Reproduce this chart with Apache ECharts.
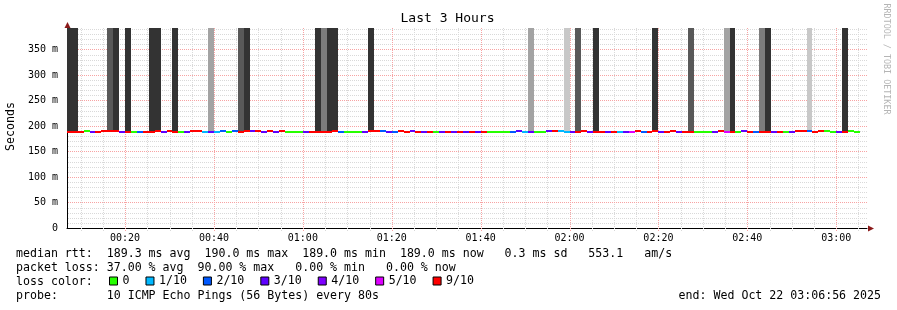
<!DOCTYPE html>
<html><head><meta charset="utf-8">
<script src="https://cdn.jsdelivr.net/npm/echarts@6/dist/echarts.min.js"></script>
<style>html,body{margin:0;padding:0;background:#fff}#c{width:897px;height:310px}</style>
</head><body><div id="c"></div>
<script>
// ---------------- data ----------------
const titleText = 'Last 3 Hours';
const yAxisName = 'Seconds';
const viewStart = '00:06:56';
const viewEnd = '03:06:56';
const firstStepStart = '00:06:40';
const stepSeconds = 80;
const yMaxMs = 392;
const timeTickLabels = ['00:20','00:40','01:00','01:20','01:40','02:00','02:20','02:40','03:00'];
const yTickValues = [0, 50, 100, 150, 200, 250, 300, 350];
const minorTimeStepMin = 5;
const minorValueStepMs = 10;

// median rtt (ms) for each 80 s step
const medianMs = [
 189,189,189,190,189,189,190,190,190,189,
 189,189,189,189,189,190,189,190,189,189,
 189,190,190,189,189,189,190,189,190,189,
 190,190,190,189,190,189,190,189,189,189,
 189,189,189,189,189,190,189,189,189,189,
 189,190,190,190,189,189,190,189,190,189,
 189,189,189,189,189,189,189,189,189,189,
 189,189,189,189,189,189,190,189,189,189,
 189,190,190,190,189,189,189,190,189,189,
 189,189,189,189,189,189,190,189,189,190,
 189,189,190,189,189,189,189,189,189,189,
 190,189,189,189,190,189,189,189,189,189,
 189,189,189,190,190,190,189,190,190,189,
 189,189,190,189
];
// lost pings (out of 10) for each step
const lostPings = [
 9,9,9,0,3,9,9,9,9,3,
 9,0,2,9,9,9,3,9,9,0,
 3,9,9,1,3,1,2,0,2,9,
 9,3,9,3,9,3,9,0,0,0,
 3,9,9,9,9,9,2,0,0,0,
 3,9,9,2,3,2,9,9,3,9,
 3,9,0,3,9,3,9,3,9,3,
 9,0,0,0,0,2,3,1,3,0,
 0,3,9,1,1,3,9,9,3,9,
 9,3,9,1,3,5,9,2,9,9,
 3,9,9,3,9,9,0,0,0,3,
 9,5,9,0,3,9,2,9,9,3,
 9,0,3,9,9,2,9,9,0,0,
 3,9,0,0
];
// smoke density level (0 = none, 5 = densest) for each step
const smokeLevel = [
 5,5,0,0,0,0,0,4,5,0,
 5,0,0,0,5,5,0,0,5,0,
 0,0,0,0,2,0,0,0,0,4,
 5,0,0,0,0,0,0,0,0,0,
 0,0,5,3,5,5,0,0,0,0,
 0,5,0,0,0,0,0,0,0,0,
 0,0,0,0,0,0,0,0,0,0,
 0,0,0,0,0,0,0,0,2,0,
 0,0,0,0,1,0,4,0,0,5,
 0,0,0,0,0,0,0,0,0,5,
 0,0,0,0,0,4,0,0,0,0,
 0,2,5,0,0,0,0,3,5,0,
 0,0,0,0,0,1,0,0,0,0,
 0,5,0,0
];
const lossLevels = [0, 1, 2, 3, 4, 5, 9];
const lossLabels = ['0', '1/10', '2/10', '3/10', '4/10', '5/10', '9/10'];
const statsLines = [
 'median rtt:  189.3 ms avg  190.0 ms max  189.0 ms min  189.0 ms now   0.3 ms sd   553.1   am/s',
 'packet loss: 37.00 % avg  90.00 % max   0.00 % min   0.00 % now',
 'loss color:',
 'probe:       10 ICMP Echo Pings (56 Bytes) every 80s'
];
const endText = 'end: Wed Oct 22 03:06:56 2025';
const creditText = 'RRDTOOL / TOBI OETIKER';

// ---------------- styles ----------------
const FONT = '"DejaVu Sans Mono", monospace';
const lossColors = {0:'#26ff00',1:'#00b8ff',2:'#0059ff',3:'#5e00ff',4:'#7e00ff',5:'#dd00ff',9:'#ff0000'};
const smokeColors = {1:'#c8c8c8',2:'#a3a3a3',3:'#7d7d7d',4:'#595959',5:'#333333'};

// ---------------- helpers ----------------
function toMin(s){const p=s.split(':').map(Number);return p[0]*60+p[1]+(p[2]||0)/60;}
function fmtMin(v){const h=Math.floor(v/60+1e-6), m=Math.round(v-h*60);return String(h).padStart(2,'0')+':'+String(m).padStart(2,'0');}
const X_MIN = toMin(viewStart), X_MAX = toMin(viewEnd);
const t0 = toMin(firstStepStart), stepMin = stepSeconds/60;
const steps = medianMs.map((m,k)=>({a:t0+k*stepMin, b:t0+(k+1)*stepMin, med:m, loss:lostPings[k], smoke:smokeLevel[k]}));

const gridItems = [];
for (let v = Math.ceil(X_MIN/minorTimeStepMin)*minorTimeStepMin; v < X_MAX; v += minorTimeStepMin) if (v % 20) gridItems.push([v,0,0]);
for (let v = minorValueStepMs; v < yMaxMs; v += minorValueStepMs) if (v % 50) gridItems.push([v,1,0]);
timeTickLabels.forEach(s=>gridItems.push([toMin(s),0,1]));
yTickValues.filter(v=>v>0).forEach(v=>gridItems.push([v,1,1]));

function gridRender(params, api){
  const v = api.value(0), horiz = api.value(1), major = api.value(2);
  let x1,y1,x2,y2;
  if (horiz){ const a=api.coord([X_MIN,v]), b=api.coord([X_MAX,v]); const y=Math.round(a[1])+0.5; x1=Math.round(a[0])+1;x2=b[0];y1=y2=y; }
  else { const a=api.coord([v,0]), b=api.coord([v,yMaxMs]); const x=Math.round(a[0])+0.5; x1=x2=x; y1=a[1]+3; y2=b[1]; }
  return {type:'line', shape:{x1,y1,x2,y2}, style:{stroke: major?'#f7a3a3':'#d9d9d9', lineWidth:1, lineDash:[1,1]}};
}
function smokeRender(params, api){
  const p0 = api.coord([api.value(0), yMaxMs]), p1 = api.coord([api.value(1), api.value(2)]);
  const l = Math.round(p0[0]), r = Math.round(p1[0]);
  return {type:'rect', shape:{x:l, y:p0[1], width:r-l, height:p1[1]-p0[1]}, style:{fill: smokeColors[api.value(3)]}};
}
function lineRenderFor(color){
  return function(params, api){
    const p0 = api.coord([api.value(0), api.value(2)]), p1 = api.coord([api.value(1), api.value(2)]);
    const l = Math.round(p0[0]), r = Math.round(p1[0]), y = Math.round(p0[1]);
    return {type:'rect', shape:{x:l, y:y-1, width:r-l, height:2}, style:{fill: color}};
  };
}
function arrowRender(params, api){
  const which = api.value(0);
  if (which === 0){ const p = api.coord([X_MIN, yMaxMs]); const x=Math.round(p[0])+0.5, y=p[1];
    return {type:'polygon', shape:{points:[[x-3,y],[x+3,y],[x,y-6]]}, style:{fill:'#8b1a1a'}}; }
  const p = api.coord([X_MAX, 0]); const x=p[0]+1, y=Math.round(p[1])+0.5;
  return {type:'polygon', shape:{points:[[x,y-3],[x,y+3],[x+6,y]]}, style:{fill:'#8b1a1a'}};
}

const series = [
  {type:'custom', name:'grid', z:1, silent:true, renderItem:gridRender, data:gridItems, encode:{x:-1,y:-1}},
  {type:'custom', name:'smoke', z:2, silent:true, clip:true, renderItem:smokeRender,
   data: steps.filter(s=>s.smoke>0).map(s=>[s.a,s.b,s.med,s.smoke]), encode:{x:[0,1],y:2}}
];
lossLevels.forEach((L,i)=>{
  series.push({type:'custom', name:lossLabels[i], z:3, silent:true, clip:true, itemStyle:{color:lossColors[L]},
    renderItem: lineRenderFor(lossColors[L]),
    data: steps.filter(s=>s.loss===L).map(s=>[s.a,s.b,s.med]), encode:{x:[0,1],y:2}});
});
series.push({type:'custom', name:'arrows', z:4, silent:true, renderItem:arrowRender, data:[[0],[1]], encode:{x:-1,y:-1}});

const txt = (x,y,text,extra)=>Object.assign({type:'text', x, y, silent:true,
  style:Object.assign({text, fontFamily:FONT, fontSize:11.6, fill:'#000', align:'left', verticalAlign:'middle'}, (extra&&extra.style)||{})},
  extra&&extra.rotation!==undefined?{rotation:extra.rotation}:{});

const option = {
  animation:false,
  backgroundColor:'#fff',
  grid:{left:67, right:30, top:28, bottom:82, containLabel:false},
  xAxis:{type:'value', min:X_MIN, max:X_MAX, splitLine:{show:false},
    axisLine:{show:true, onZero:false, lineStyle:{color:'#000', width:1}},
    axisTick:{show:false},
    axisLabel:{customValues: timeTickLabels.map(toMin), formatter:v=>fmtMin(v), color:'#000', fontFamily:FONT, fontSize:10, margin:5}},
  yAxis:{type:'value', min:0, max:yMaxMs, splitLine:{show:false},
    axisLine:{show:true, lineStyle:{color:'#000', width:1}},
    axisTick:{show:false},
    axisLabel:{customValues: yTickValues, formatter:v=>v===0?'0':v+' m', color:'#000', fontFamily:FONT, fontSize:10, margin:9}},
  legend:{show:true, data:lossLabels, left:109, top:275, padding:0, icon:'rect', itemWidth:8, itemHeight:8, itemGap:16,
    selectedMode:false, itemStyle:{borderColor:'#000', borderWidth:1},
    textStyle:{fontFamily:FONT, fontSize:11.6, color:'#000', padding:0}},
  graphic:[
    txt(447.5, 19, titleText, {style:{fontSize:13, align:'center'}}),
    txt(11, 126.5, yAxisName, {rotation:Math.PI/2, style:{align:'center'}}),
    txt(886, 59, creditText, {rotation:-Math.PI/2, style:{align:'center', fontSize:8.4, fill:'#b5b5b5'}}),
    txt(16, 254, statsLines[0]),
    txt(16, 268, statsLines[1]),
    txt(16, 282, statsLines[2]),
    txt(16, 296, statsLines[3]),
    txt(881, 296, endText, {style:{align:'right'}})
  ],
  series
};
const chart = echarts.init(document.getElementById('c'), null, {renderer:'canvas'});
chart.setOption(option);
</script></body></html>
